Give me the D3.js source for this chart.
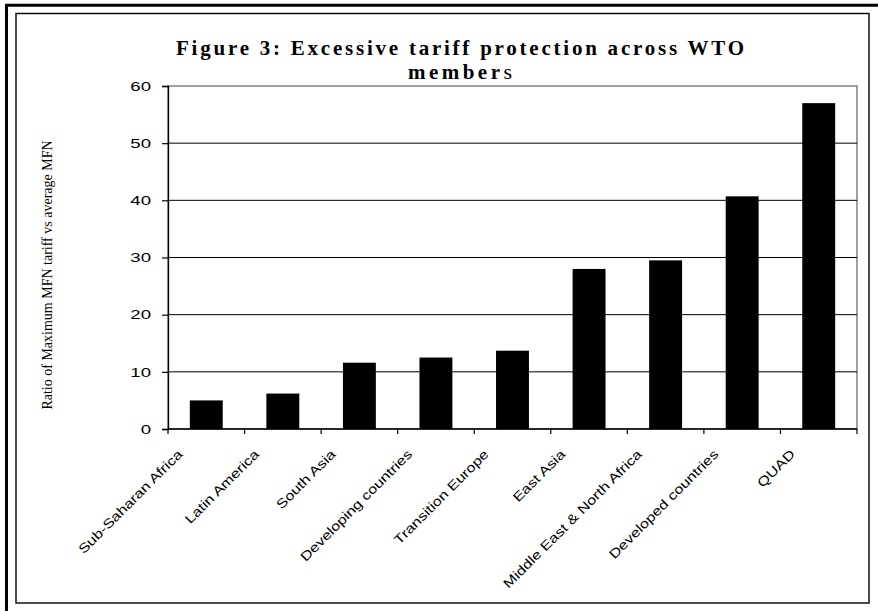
<!DOCTYPE html>
<html>
<head>
<meta charset="utf-8">
<script src="https://cdn.jsdelivr.net/npm/d3@7"></script>
<style>
  html, body { margin: 0; padding: 0; background: #fff; }
  svg { display: block; }
</style>
</head>
<body>
<div id="chart"></div>
<script>
const categories = [
  "Sub-Saharan Africa", "Latin America", "South Asia", "Developing countries",
  "Transition Europe", "East Asia", "Middle East & North Africa",
  "Developed countries", "QUAD"
];
const values = [5.0, 6.2, 11.6, 12.5, 13.7, 28.0, 29.5, 40.7, 57.0];
const yTicks = [0, 10, 20, 30, 40, 50, 60];
const titleLine1 = "Figure 3: Excessive tariff protection across WTO";
const titleLine2a = "member";
const titleLine2b = "s";
const yLabel = "Ratio of Maximum MFN tariff vs average MFN";

const W = 878, H = 611;
const plot = { left: 168, right: 857, top: 86, bottom: 429 };

const svg = d3.select("#chart").append("svg")
  .attr("width", W).attr("height", H);

svg.append("rect").attr("width", W).attr("height", H).attr("fill", "#fff");

// outer thick frame (top & left)
svg.append("path")
  .attr("d", `M6.5,${H} V5.3 H${W}`)
  .attr("fill", "none").attr("stroke", "#000").attr("stroke-width", 3);

// inner chart box
svg.append("rect")
  .attr("x", 16).attr("y", 13.5).attr("width", 869 - 16).attr("height", 603 - 13.5)
  .attr("fill", "none").attr("stroke", "#000").attr("stroke-width", 1.4);

const x = d3.scaleBand().domain(categories).range([plot.left, plot.right]).padding(0);
const y = d3.scaleLinear().domain([0, 60]).range([plot.bottom, plot.top]);

// plot area border (gray)
svg.append("rect")
  .attr("x", plot.left).attr("y", plot.top)
  .attr("width", plot.right - plot.left).attr("height", plot.bottom - plot.top)
  .attr("fill", "none").attr("stroke", "#808080").attr("stroke-width", 1.5);

// gridlines
svg.append("g").selectAll("line")
  .data(yTicks.filter(t => t > 0 && t < 60))
  .join("line")
  .attr("x1", plot.left).attr("x2", plot.right)
  .attr("y1", d => y(d)).attr("y2", d => y(d))
  .attr("stroke", "#000").attr("stroke-width", 1);

// bars
const barFrac = 0.43;
svg.append("g").selectAll("rect")
  .data(values)
  .join("rect")
  .attr("x", (d, i) => x(categories[i]) + x.bandwidth() * (1 - barFrac) / 2)
  .attr("width", x.bandwidth() * barFrac)
  .attr("y", d => y(d))
  .attr("height", d => y(0) - y(d))
  .attr("fill", "#000");

// y axis
const yAxis = svg.append("g")
  .attr("transform", `translate(${plot.left},0)`)
  .call(d3.axisLeft(y).tickValues(yTicks).tickSize(6).tickPadding(0).tickFormat(d3.format("d")));
yAxis.select(".domain").attr("stroke", "#000").attr("stroke-width", 1.3);
yAxis.selectAll(".tick line").attr("stroke", "#000").attr("stroke-width", 1.2);
yAxis.selectAll(".tick text")
  .attr("x", null).attr("dy", null)
  .attr("transform", "translate(-17,0) scale(1.55,1)")
  .attr("dominant-baseline", "central")
  .attr("text-anchor", "end")
  .attr("font-family", "Arial, 'Liberation Sans', sans-serif")
  .attr("font-size", 12)
  .attr("fill", "#000");

// x axis (ticks at band boundaries)
const bounds = categories.map(c => x(c)).concat([plot.right]);
const xAxisG = svg.append("g");
xAxisG.append("line")
  .attr("x1", plot.left).attr("x2", plot.right)
  .attr("y1", plot.bottom).attr("y2", plot.bottom)
  .attr("stroke", "#000").attr("stroke-width", 1.3);
xAxisG.selectAll("line.tk").data(bounds).join("line")
  .attr("class", "tk")
  .attr("x1", d => d).attr("x2", d => d)
  .attr("y1", plot.bottom).attr("y2", plot.bottom + 5)
  .attr("stroke", "#000").attr("stroke-width", 1.2);

xAxisG.selectAll("text").data(categories).join("text")
  .attr("transform", d => `translate(${x(d) + x.bandwidth() / 2 - 23},${plot.bottom + 26}) rotate(-45) scale(1.25,1)`)
  .attr("text-anchor", "end")
  .attr("font-family", "Arial, 'Liberation Sans', sans-serif")
  .attr("font-size", 13)
  .attr("fill", "#000")
  .text(d => d);

// y label
svg.append("text")
  .attr("transform", `translate(52,275) rotate(-90)`)
  .attr("text-anchor", "middle")
  .attr("font-family", "'Times New Roman', 'Liberation Serif', serif")
  .attr("font-size", 14)
  .attr("fill", "#000")
  .text(yLabel);

// title
svg.append("text")
  .attr("x", 176).attr("y", 55)
  .attr("textLength", 568).attr("lengthAdjust", "spacing")
  .attr("font-family", "'Times New Roman', 'Liberation Serif', serif")
  .attr("font-weight", "bold")
  .attr("font-size", 21)
  .attr("fill", "#000")
  .text(titleLine1);

const t2 = svg.append("text")
  .attr("x", 408).attr("y", 79)
  .attr("textLength", 104).attr("lengthAdjust", "spacing")
  .attr("font-family", "'Times New Roman', 'Liberation Serif', serif")
  .attr("font-size", 21)
  .attr("fill", "#000");
t2.append("tspan").attr("font-weight", "bold").text(titleLine2a);
t2.append("tspan").attr("font-weight", "normal").attr("font-size", 22).text(titleLine2b);
</script>
</body>
</html>
